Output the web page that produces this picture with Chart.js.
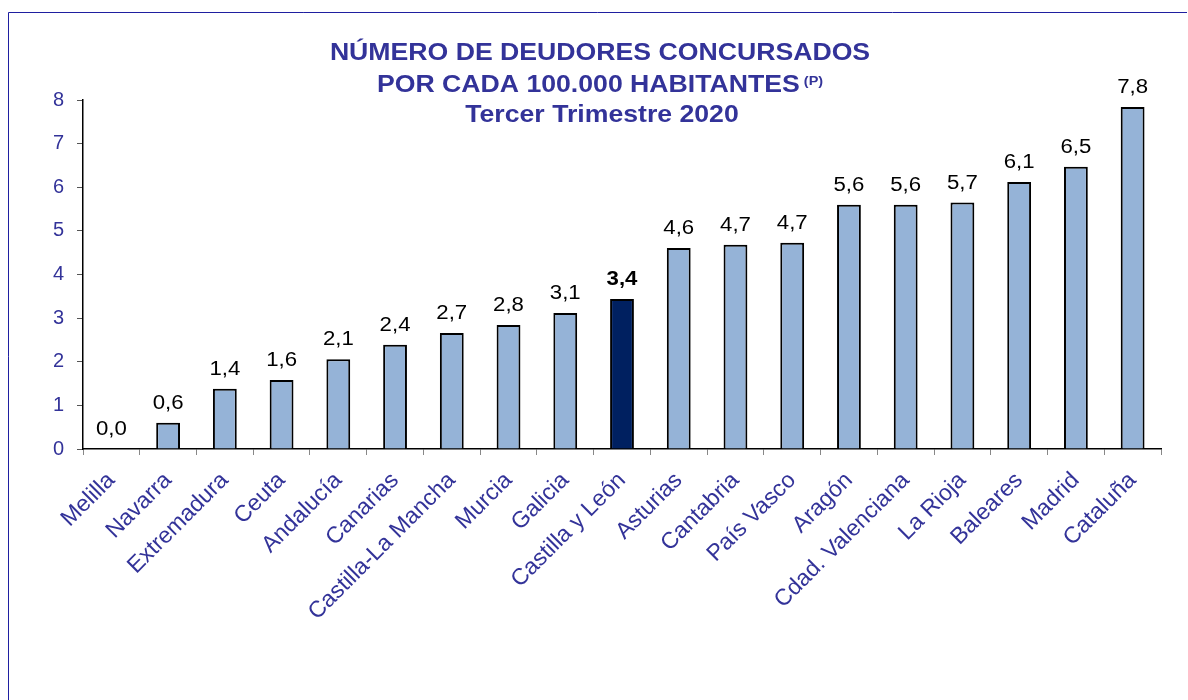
<!DOCTYPE html>
<html><head><meta charset="utf-8">
<script src="https://cdn.jsdelivr.net/npm/chart.js@4"></script>
<style>html,body{margin:0;padding:0;background:#fff}#wrap{width:1188px;height:700px;position:relative}</style>
</head><body><div id="wrap"><canvas id="c" width="1188" height="700"></canvas></div>
<script>
const categories = ["Melilla","Navarra","Extremadura","Ceuta","Andalucía","Canarias","Castilla-La Mancha","Murcia","Galicia","Castilla y León","Asturias","Cantabria","País Vasco","Aragón","Cdad. Valenciana","La Rioja","Baleares","Madrid","Cataluña"];
const values = [0.0,0.6,1.38,1.58,2.06,2.39,2.66,2.84,3.12,3.44,4.61,4.68,4.73,5.6,5.6,5.65,6.12,6.47,7.84];
const highlighted = ["Castilla y León"];
const yTicks = [0,1,2,3,4,5,6,7,8];
const titleLines = ["NÚMERO DE DEUDORES CONCURSADOS","POR CADA 100.000 HABITANTES","Tercer Trimestre 2020"];

const LIGHT = "#95B3D7", DARK = "#002060", BLUE = "#333399";
const FONT = "'Liberation Sans', Arial, sans-serif";
const colors = categories.map(c => highlighted.includes(c) ? DARK : LIGHT);
const SX = 1.11;

function stretchedText(ctx, text, cx, y, align) {
  ctx.save();
  ctx.translate(cx, y);
  ctx.scale(SX, 1);
  ctx.textAlign = align || "center";
  ctx.fillText(text, 0, 0);
  ctx.restore();
}

const decor = {
  id: 'decor',
  afterDraw(chart) {
    const ctx = chart.ctx;
    ctx.save();
    // frame
    ctx.strokeStyle = "#1F1FA0"; ctx.lineWidth = 1;
    ctx.beginPath(); ctx.moveTo(8.5, 700); ctx.lineTo(8.5, 12.5); ctx.lineTo(1187, 12.5); ctx.stroke();
    // title
    ctx.fillStyle = BLUE; ctx.textBaseline = "alphabetic";
    ctx.font = "bold 24px " + FONT;
    stretchedText(ctx, titleLines[0], 600, 60);
    const w2 = ctx.measureText(titleLines[1]).width * SX;
    ctx.font = "bold 13px " + FONT;
    const wp = ctx.measureText(" (P)").width * SX;
    const x0 = 600 - (w2 + wp) / 2;
    ctx.font = "bold 24px " + FONT;
    stretchedText(ctx, titleLines[1], x0, 92, "left");
    ctx.font = "bold 13px " + FONT;
    stretchedText(ctx, " (P)", x0 + w2, 85, "left");
    ctx.font = "bold 24px " + FONT;
    stretchedText(ctx, titleLines[2], 602, 122);
    // data labels
    const meta = chart.getDatasetMeta(0);
    meta.data.forEach((bar, i) => {
      const hl = highlighted.includes(categories[i]);
      ctx.fillStyle = "#000";
      ctx.font = (hl ? "bold " : "") + "20px " + FONT;
      stretchedText(ctx, values[i].toFixed(1).replace('.', ','), bar.x, bar.y - 14);
    });
    ctx.restore();
  }
};

new Chart(document.getElementById('c'), {
  type: 'bar',
  data: { labels: categories, datasets: [{ data: values, backgroundColor: colors, borderColor: "#000", borderWidth: 2, barPercentage: 0.42, categoryPercentage: 1 }] },
  options: {
    responsive: false, animation: false,
    layout: { padding: { top: 100, right: 27, left: 0, bottom: 0 } },
    plugins: { legend: { display: false }, tooltip: { enabled: false } },
    scales: {
      x: {
        grid: { drawOnChartArea: false, color: "#888", tickLength: 6, offset: true },
        border: { color: "#000", width: 1.5 },
        ticks: { color: BLUE, font: { family: FONT, size: 23 }, minRotation: 45, maxRotation: 45, padding: 12, autoSkip: false },
        afterFit(s) { s.height = 251; }
      },
      y: {
        min: 0, max: 8,
        afterBuildTicks(s) { s.ticks = yTicks.map(v => ({ value: v })); },
        grid: { drawOnChartArea: false, color: "#555", tickLength: 6 },
        border: { color: "#000", width: 1.5 },
        ticks: { color: BLUE, font: { family: FONT, size: 20 }, padding: 13 },
        afterFit(s) { s.width = 83; }
      }
    }
  },
  plugins: [decor]
});
</script></body></html>
